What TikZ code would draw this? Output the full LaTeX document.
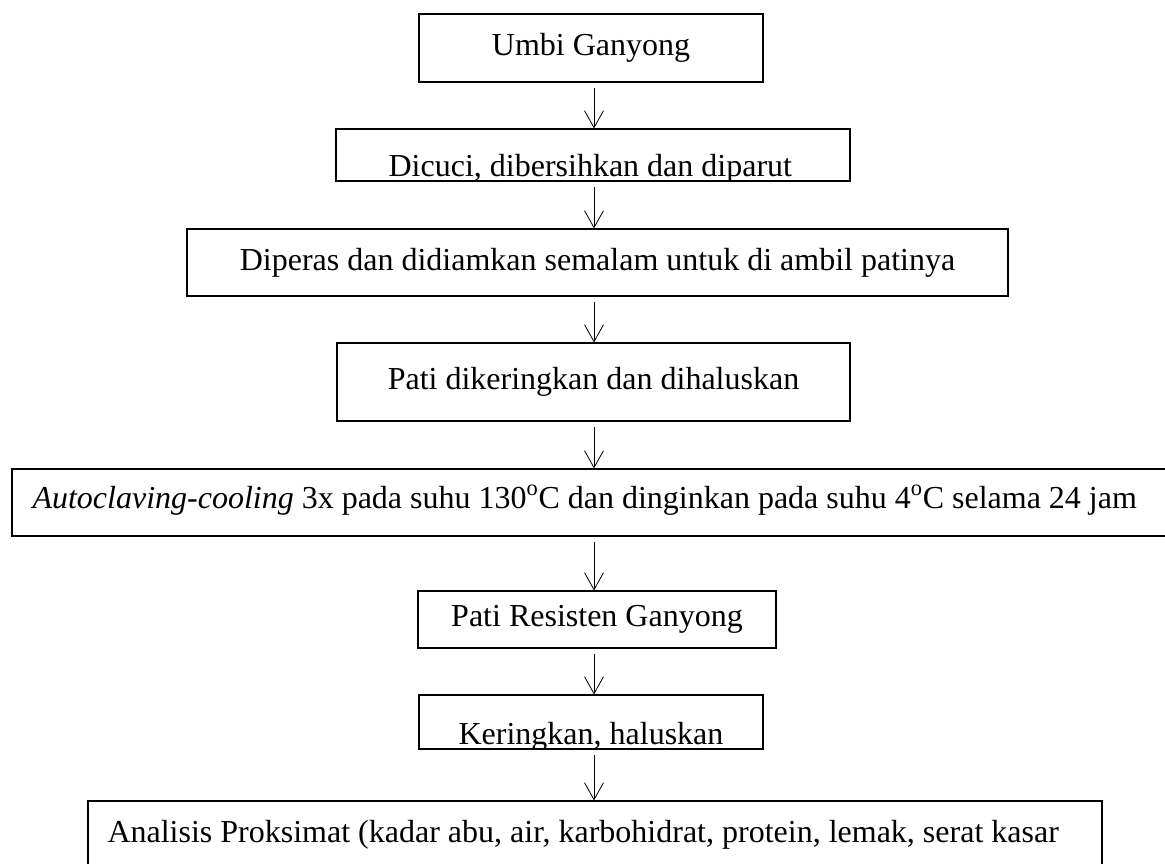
\documentclass[tikz,border=0pt]{standalone}
\usepackage{fontspec}
\setmainfont{Liberation Serif}
\usetikzlibrary{arrows.meta}
\begin{document}
\begin{tikzpicture}[x=0.75pt,y=-0.75pt,
  box/.style={draw, line width=0.8pt, inner sep=0pt, fill=white, font=\fontsize{24}{28}\selectfont},
  lbl/.style={draw=none, fill=none, inner sep=0pt, minimum width=0pt, minimum height=0pt, font=\fontsize{24}{28}\selectfont},
  arr/.style={line width=0.6pt, -{Straight Barb[length=12.75pt,width=14.25pt]}, shorten <=3.75pt}]
\useasboundingbox (0,0) rectangle (1165,864);
\coordinate (ax) at (594,0);
\node[box, minimum width=258pt, minimum height=51pt] (b1) at (591,48) {Umbi Ganyong};
\node[box, minimum width=385.5pt, minimum height=39pt,
  path picture={\node[lbl, anchor=base, yshift=3.4pt, xshift=-2pt] at (path picture bounding box.south) {Dicuci, dibersihkan dan diparut};}] (b2) at (593,155) {};
\node[box, minimum width=615.75pt, minimum height=50.25pt] (b3) at (597.5,262.5) {Diperas dan didiamkan semalam untuk di ambil patinya};
\node[box, minimum width=384.75pt, minimum height=58.5pt] (b4) at (593.5,382) {Pati dikeringkan dan dihaluskan};
\node[box, minimum width=891pt, minimum height=50.25pt,
  path picture={\node[lbl, anchor=base west, xshift=15pt, yshift=-4.125pt] at (path picture bounding box.west) {\textit{Autoclaving-cooling} 3x pada suhu 130\textsuperscript{o}C dan dinginkan pada suhu 4\textsuperscript{o}C selama 24 jam};}] (b5) at (606,502.5) {};
\node[box, minimum width=268.5pt, minimum height=42.75pt] (b6) at (597,619.5) {Pati Resisten Ganyong};
\node[box, minimum width=258pt, minimum height=40.5pt,
  path picture={\node[lbl, anchor=base, yshift=3.4pt] at (path picture bounding box.south) {Keringkan, haluskan};}] (b7) at (591,722) {};
\node[box, minimum width=760.5pt, minimum height=74.25pt,
  path picture={\node[lbl, anchor=base west, xshift=14.25pt, yshift=6.375pt] at (path picture bounding box.west) {Analisis Proksimat (kadar abu, air, karbohidrat, protein, lemak, serat kasar};}] (b8) at (595,850.5) {};
\draw[arr] (b1.south -| ax) -- (b2.north -| ax);
\draw[arr] (b2.south -| ax) -- (b3.north -| ax);
\draw[arr] (b3.south -| ax) -- (b4.north -| ax);
\draw[arr] (b4.south -| ax) -- (b5.north -| ax);
\draw[arr] (b5.south -| ax) -- (b6.north -| ax);
\draw[arr] (b6.south -| ax) -- (b7.north -| ax);
\draw[arr] (b7.south -| ax) -- (b8.north -| ax);
\end{tikzpicture}
\end{document}
